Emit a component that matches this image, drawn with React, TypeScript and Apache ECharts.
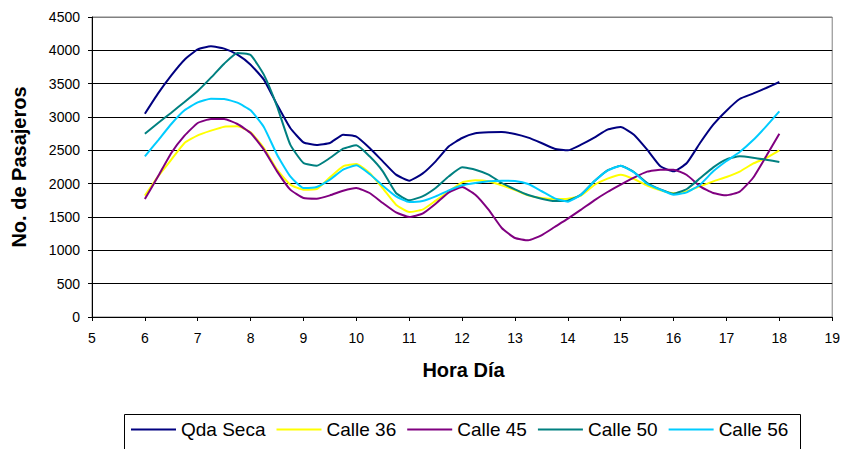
import React, { useEffect, useRef } from "react";
import * as echarts from "echarts";

const HOURS = [
  6, 6.25, 6.5, 6.75, 7, 7.25, 7.5, 7.75, 8, 8.25, 8.5, 8.75, 9, 9.25, 9.5, 9.75,
  10, 10.25, 10.5, 10.75, 11, 11.25, 11.5, 11.75, 12, 12.25, 12.5, 12.75, 13, 13.25,
  13.5, 13.75, 14, 14.25, 14.5, 14.75, 15, 15.25, 15.5, 15.75, 16, 16.25, 16.5,
  16.75, 17, 17.25, 17.5, 17.75, 18,
];

const QDA_SECA = [
  3050, 3355, 3625, 3860, 4015, 4060, 4025, 3935, 3785, 3560, 3185, 2835, 2620, 2580,
  2610, 2735, 2705, 2535, 2335, 2135, 2045, 2150, 2335, 2560, 2685, 2755, 2770, 2775,
  2745, 2690, 2610, 2525, 2500, 2585, 2690, 2810, 2850, 2735, 2510, 2260, 2185, 2310,
  2610, 2885, 3095, 3270, 3350, 3435, 3525,
];

const CALLE_36 = [
  1820, 2110, 2360, 2610, 2725, 2795, 2855, 2860, 2770, 2535, 2210, 1985, 1910, 1920,
  2095, 2260, 2295, 2160, 1930, 1685, 1575, 1610, 1745, 1885, 2020, 2050, 2035, 1975,
  1905, 1825, 1785, 1770, 1775, 1820, 1980, 2075, 2135, 2070, 1970, 1900, 1855, 1885,
  1960, 2035, 2100, 2180, 2300, 2385, 2500,
];

const CALLE_45 = [
  1770, 2110, 2460, 2720, 2910, 2970, 2970, 2895, 2760, 2510, 2185, 1910, 1785, 1775,
  1825, 1895, 1935, 1860, 1710, 1570, 1500, 1550, 1700, 1870, 1950, 1835, 1610, 1335,
  1185, 1150, 1225, 1350, 1475, 1610, 1750, 1875, 1985, 2090, 2180, 2210, 2210, 2130,
  1960, 1860, 1825, 1880, 2085, 2410, 2750,
];

const CALLE_50 = [
  2750, 2910, 3065, 3225, 3390, 3590, 3800, 3960, 3930, 3635, 3160, 2585, 2310, 2270,
  2385, 2525, 2575, 2410, 2185, 1860, 1750, 1810, 1935, 2110, 2245, 2210, 2135, 2010,
  1915, 1830, 1775, 1740, 1745, 1835, 2035, 2200, 2270, 2175, 2010, 1915, 1850, 1920,
  2080, 2245, 2365, 2410, 2390, 2360, 2325,
];

const CALLE_56 = [
  2410, 2650, 2895, 3100, 3220, 3275, 3270, 3215, 3100, 2850, 2435, 2110, 1935, 1950,
  2060, 2210, 2275, 2145, 1970, 1810, 1725, 1740, 1810, 1900, 1975, 2010, 2035, 2045,
  2040, 1995, 1890, 1780, 1730, 1835, 2035, 2195, 2270, 2170, 1995, 1910, 1835, 1870,
  1985, 2185, 2340, 2475, 2650, 2860, 3085,
];

const SERIES_NAMES = ["Qda Seca", "Calle 36", "Calle 45", "Calle 50", "Calle 56"];
const SERIES_VALUES = [QDA_SECA, CALLE_36, CALLE_45, CALLE_50, CALLE_56];
const SERIES_COLORS = ["#000080", "#FFFF00", "#800080", "#008080", "#00CCFF"];

const X_TITLE = "Hora Día";
const Y_TITLE = "No. de Pasajeros";

const FONT = 'Arial, "Liberation Sans", Helvetica, sans-serif';

export default function App() {
  const ref = useRef<HTMLDivElement>(null);

  useEffect(() => {
    if (!ref.current) return;
    const chart = echarts.init(ref.current, null, { renderer: "svg" });

    const series = SERIES_NAMES.map((name, i) => ({
      name,
      type: "line",
      data: HOURS.map((h, j) => [h, SERIES_VALUES[i][j]]),
      showSymbol: false,
      symbol: "none",
      smooth: 0.15,
      lineStyle: { color: SERIES_COLORS[i], width: 2 },
      itemStyle: { color: SERIES_COLORS[i] },
    }));

    const splitColors = ["#000", "#000", "#000", "#000", "#000", "#000", "#000", "#000", "#000", "#808080"];

    chart.setOption({
      animation: false,
      backgroundColor: "#fff",
      textStyle: { fontFamily: FONT },
      grid: {
        left: 92,
        right: 9,
        top: 17,
        bottom: 132,
        show: true,
        borderColor: "#808080",
        borderWidth: 1,
        backgroundColor: "transparent",
      },
      xAxis: {
        type: "value",
        min: 5,
        max: 19,
        interval: 1,
        axisLine: { show: true, lineStyle: { color: "#000", width: 1 } },
        axisTick: { show: true, length: 4, lineStyle: { color: "#000" } },
        axisLabel: {
          fontSize: 14,
          color: "#000",
          margin: 14,
          fontFamily: FONT,
          formatter: (v: number) => String(v),
        },
        splitLine: { show: false },
      },
      yAxis: {
        type: "value",
        min: 0,
        max: 4500,
        interval: 500,
        axisLine: { show: true, lineStyle: { color: "#000", width: 1 } },
        axisTick: { show: true, length: 4, lineStyle: { color: "#000" } },
        axisLabel: {
          fontSize: 14,
          color: "#000",
          margin: 12,
          fontFamily: FONT,
          formatter: (v: number) => String(v),
        },
        splitLine: { show: true, lineStyle: { color: splitColors, width: 1 } },
      },
      legend: {
        data: SERIES_NAMES,
        left: 131,
        top: 420,
        padding: 0,
        itemGap: 11,
        itemWidth: 45,
        itemHeight: 2,
        icon: "rect",
        textStyle: { fontSize: 19, color: "#000", fontFamily: FONT },
      },
      graphic: [
        {
          type: "rect",
          shape: { x: 124.5, y: 414.5, width: 676, height: 60 },
          style: { fill: "none", stroke: "#000", lineWidth: 1 },
          z: -1,
        },
        {
          type: "text",
          x: 463.5,
          y: 370,
          style: {
            text: X_TITLE,
            font: `bold 20px ${FONT}`,
            fill: "#000",
            textAlign: "center",
            textVerticalAlign: "middle",
          },
        },
        {
          type: "text",
          x: 18.5,
          y: 167,
          rotation: Math.PI / 2,
          style: {
            text: Y_TITLE,
            font: `bold 20px ${FONT}`,
            fill: "#000",
            textAlign: "center",
            textVerticalAlign: "middle",
          },
        },
      ],
      series,
    });

    return () => {
      chart.dispose();
    };
  }, []);

  return (
    <div
      ref={ref}
      style={{ position: "fixed", left: 0, top: 0, width: 843, height: 449, background: "#fff" }}
    />
  );
}
